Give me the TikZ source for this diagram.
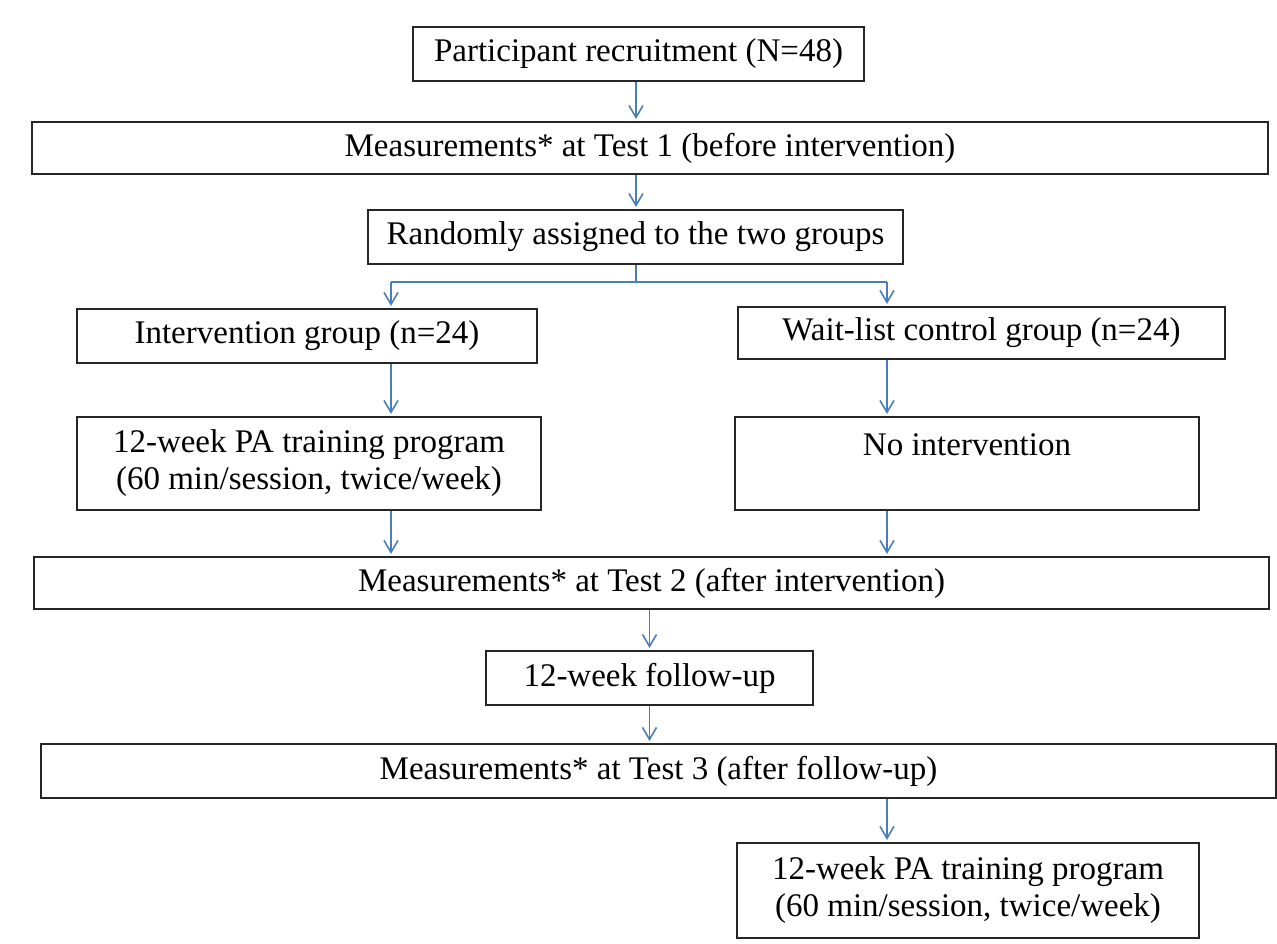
\documentclass[tikz,border=0pt]{standalone}
\usepackage{fontspec}
\setmainfont{Liberation Serif}
\usepackage{xcolor}
\usetikzlibrary{arrows.meta,positioning,calc}

\definecolor{arrowblue}{HTML}{4A7EBB}

\begin{document}
\begin{tikzpicture}[
    x=1pt, y=-1pt,
    box/.style={draw=black!85, line width=2pt, inner sep=0pt, align=center,
                font=\fontsize{33}{37}\selectfont},
    arr/.style={-{Straight Barb[length=12pt,width=14pt]}, arrowblue, line width=1.6pt, shorten >=2pt},
    conn/.style={arrowblue, line width=1.6pt}
]
\useasboundingbox (0,0) rectangle (1277,943);

\node[box, minimum width=451pt, minimum height=54pt] (rec) at (638.5,54) {Participant recruitment (N=48)};
\node[box, minimum width=1236pt, minimum height=52pt] (test1) at (650,148) {Measurements* at Test 1 (before intervention)};
\node[box, minimum width=535pt, minimum height=54pt] (rand) at (635.5,237) {Randomly assigned to the two groups};

\node[box, minimum width=460pt, minimum height=54pt] (ig) at (307,336) {Intervention group (n=24)};
\node[box, minimum width=487pt, minimum height=52pt] (wl) at (981.5,333) {Wait-list control group (n=24)};
\node[box, minimum width=464pt, minimum height=93pt] (pa) at (309,463.5) {12-week PA training program\\(60 min/session, twice/week)};
\node[box, minimum width=464pt, minimum height=93pt] (noint) at (967,463.5) {No intervention\\~};

\node[box, minimum width=1235pt, minimum height=52pt] (test2) at (651.5,583) {Measurements* at Test 2 (after intervention)};
\node[box, minimum width=327pt, minimum height=54pt] (fu) at (649.5,678) {12-week follow-up};
\node[box, minimum width=1235pt, minimum height=54pt] (test3) at (658.5,771) {Measurements* at Test 3 (after follow-up)};
\node[box, minimum width=462pt, minimum height=95pt] (pa2) at (968,890.5) {12-week PA training program\\(60 min/session, twice/week)};

% split into the two groups
\coordinate (split) at (636,282);
\coordinate (lft) at (391,282);
\coordinate (rgt) at (887,282);

\draw[arr] (rec.south -| split) -- (test1.north -| split);
\draw[arr] (test1.south -| split) -- (rand.north -| split);
\draw[conn] (rand.south -| split) -- (split);
\draw[conn] (lft) -- (rgt);
\draw[arr] (lft) -- (lft |- ig.north);
\draw[arr] (rgt) -- (rgt |- wl.north);
\draw[arr] (lft |- ig.south) -- (lft |- pa.north);
\draw[arr] (rgt |- wl.south) -- (rgt |- noint.north);
\draw[arr] (lft |- pa.south) -- (lft |- test2.north);
\draw[arr] (rgt |- noint.south) -- (rgt |- test2.north);
\draw[arr] (test2.south -| fu) -- (fu.north);
\draw[arr] (fu.south) -- (fu.south |- test3.north);
\draw[arr] (test3.south -| rgt) -- (pa2.north -| rgt);
\end{tikzpicture}
\end{document}
